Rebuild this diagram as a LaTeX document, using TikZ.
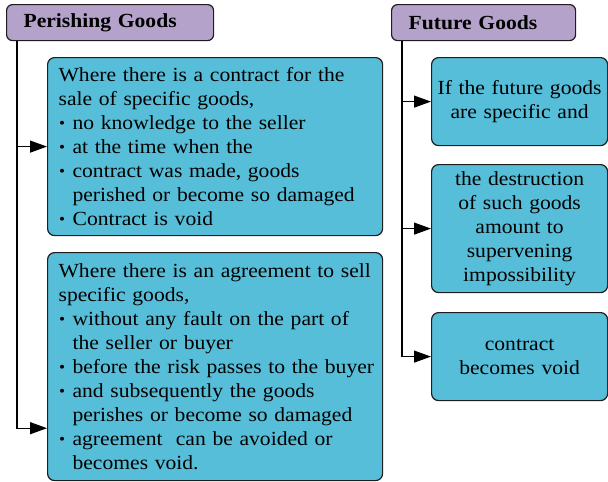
\documentclass[tikz,border=0pt]{standalone}
\usepackage{fontspec}
\setmainfont{Liberation Serif}[FakeStretch=1.08]
\usetikzlibrary{arrows.meta,positioning,calc}
\definecolor{lilac}{RGB}{180,162,202}
\definecolor{sky}{RGB}{86,190,217}
\definecolor{ink}{RGB}{30,30,30}
\newcommand{\bul}{\makebox[14pt][l]{\hspace{0.5pt}\raisebox{0.1ex}{\scalebox{0.8}{\textbullet}}}}
\newcommand{\cont}{\hspace*{14pt}}
\tikzset{
  head/.style={draw=ink,fill=lilac,rounded corners=6pt,line width=1.2pt,font=\bfseries\fontsize{20}{24}\selectfont,minimum height=36pt,inner xsep=17pt,align=left,anchor=north west},
  card/.style={draw=ink,fill=sky,rounded corners=7pt,line width=1.2pt,font=\fontsize{20}{24}\selectfont,anchor=north west},
  feed/.style={line width=1.2pt,-{Triangle[length=17pt,width=12pt]}}
}

\begin{document}
\begin{tikzpicture}[x=1pt,y=-1pt]
    \useasboundingbox (0,0) rectangle (608,482);
    \node[head,text width=173pt] (perish) at (6,4) {Perishing Goods};
    \node[head,text width=150pt] (future) at (391,4) {Future Goods};
    \node[card,text width=313pt,inner xsep=11pt,minimum height=178pt,align=left] (pa) at (47,57) {Where there is a contract for the\\
      sale of specific goods,\\
      \bul no knowledge to the seller\\
      \bul at the time when the\\
      \bul contract was made, goods\\
      \cont perished or become so damaged\\
      \bul Contract is void};
    \node[card,text width=313pt,inner xsep=11pt,minimum height=228pt,align=left] (pb) at (47,252) {Where there is an agreement to sell\\
      specific goods,\\
      \bul without any fault on the part of\\
      \cont the seller or buyer\\
      \mbox{\bul before the risk passes to the buyer}\\
      \bul and subsequently the goods\\
      \cont perishes or become so damaged\\
      \bul agreement\ \ can be avoided or\\
      \cont becomes void.};
    \coordinate (ptrunk) at ([xshift=11pt]perish.south west);
    \draw[feed] (ptrunk) |- (pa.west);
    \draw[feed] (ptrunk) |- ([yshift=53pt]pb.south west);
    \coordinate (ftrunk) at ([xshift=11pt]future.south west);
    \foreach \n/\y/\h/\t in {
      fa/57/88/{If the future goods\\are specific and},
      fb/164/128/{the destruction\\of such goods\\amount to\\supervening\\impossibility},
      fc/312/88/{contract\\becomes void}}
    {
      \node[card,text width=166pt,inner xsep=5pt,minimum height=\h pt,align=center] (\n) at (431,\y) {\t};
      \draw[feed] (ftrunk) |- (\n.west);
    }
\end{tikzpicture}
\end{document}
